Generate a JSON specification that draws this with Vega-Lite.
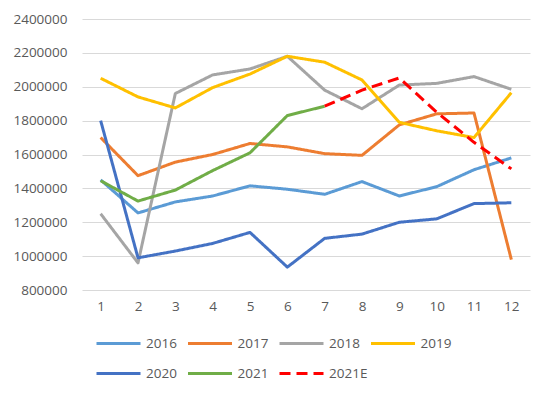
{
  "$schema": "https://vega.github.io/schema/vega-lite/v6.json",
  "width": 448,
  "height": 271,
  "autosize": {"type": "none"},
  "padding": {"left": 82, "top": 19, "right": 20, "bottom": 106},
  "background": "white",
  "data": {
    "values": [
      {"m": 1, "s": "2016", "v": 1450000}, {"m": 2, "s": "2016", "v": 1255000}, {"m": 3, "s": "2016", "v": 1320000}, {"m": 4, "s": "2016", "v": 1355000}, {"m": 5, "s": "2016", "v": 1415000}, {"m": 6, "s": "2016", "v": 1395000}, {"m": 7, "s": "2016", "v": 1365000}, {"m": 8, "s": "2016", "v": 1440000}, {"m": 9, "s": "2016", "v": 1355000}, {"m": 10, "s": "2016", "v": 1410000}, {"m": 11, "s": "2016", "v": 1510000}, {"m": 12, "s": "2016", "v": 1580000},
      {"m": 1, "s": "2017", "v": 1700000}, {"m": 2, "s": "2017", "v": 1475000}, {"m": 3, "s": "2017", "v": 1555000}, {"m": 4, "s": "2017", "v": 1600000}, {"m": 5, "s": "2017", "v": 1665000}, {"m": 6, "s": "2017", "v": 1645000}, {"m": 7, "s": "2017", "v": 1605000}, {"m": 8, "s": "2017", "v": 1595000}, {"m": 9, "s": "2017", "v": 1775000}, {"m": 10, "s": "2017", "v": 1840000}, {"m": 11, "s": "2017", "v": 1845000}, {"m": 12, "s": "2017", "v": 980000},
      {"m": 1, "s": "2018", "v": 1250000}, {"m": 2, "s": "2018", "v": 960000}, {"m": 3, "s": "2018", "v": 1960000}, {"m": 4, "s": "2018", "v": 2070000}, {"m": 5, "s": "2018", "v": 2105000}, {"m": 6, "s": "2018", "v": 2180000}, {"m": 7, "s": "2018", "v": 1980000}, {"m": 8, "s": "2018", "v": 1870000}, {"m": 9, "s": "2018", "v": 2010000}, {"m": 10, "s": "2018", "v": 2020000}, {"m": 11, "s": "2018", "v": 2060000}, {"m": 12, "s": "2018", "v": 1985000},
      {"m": 1, "s": "2019", "v": 2050000}, {"m": 2, "s": "2019", "v": 1940000}, {"m": 3, "s": "2019", "v": 1875000}, {"m": 4, "s": "2019", "v": 1995000}, {"m": 5, "s": "2019", "v": 2075000}, {"m": 6, "s": "2019", "v": 2180000}, {"m": 7, "s": "2019", "v": 2145000}, {"m": 8, "s": "2019", "v": 2040000}, {"m": 9, "s": "2019", "v": 1790000}, {"m": 10, "s": "2019", "v": 1740000}, {"m": 11, "s": "2019", "v": 1700000}, {"m": 12, "s": "2019", "v": 1965000},
      {"m": 1, "s": "2020", "v": 1800000}, {"m": 2, "s": "2020", "v": 990000}, {"m": 3, "s": "2020", "v": 1030000}, {"m": 4, "s": "2020", "v": 1075000}, {"m": 5, "s": "2020", "v": 1140000}, {"m": 6, "s": "2020", "v": 935000}, {"m": 7, "s": "2020", "v": 1105000}, {"m": 8, "s": "2020", "v": 1130000}, {"m": 9, "s": "2020", "v": 1200000}, {"m": 10, "s": "2020", "v": 1220000}, {"m": 11, "s": "2020", "v": 1310000}, {"m": 12, "s": "2020", "v": 1315000},
      {"m": 1, "s": "2021", "v": 1445000}, {"m": 2, "s": "2021", "v": 1325000}, {"m": 3, "s": "2021", "v": 1390000}, {"m": 4, "s": "2021", "v": 1505000}, {"m": 5, "s": "2021", "v": 1610000}, {"m": 6, "s": "2021", "v": 1830000}, {"m": 7, "s": "2021", "v": 1885000},
      {"m": 7, "s": "2021E", "v": 1885000}, {"m": 8, "s": "2021E", "v": 1980000}, {"m": 9, "s": "2021E", "v": 2052000}, {"m": 10, "s": "2021E", "v": 1850000}, {"m": 11, "s": "2021E", "v": 1672000}, {"m": 12, "s": "2021E", "v": 1515000}
    ]
  },
  "mark": {"type": "line", "strokeWidth": 3, "strokeCap": "butt", "strokeJoin": "round"},
  "encoding": {
    "x": {
      "field": "m", "type": "ordinal", "title": null,
      "scale": {"type": "point", "padding": 0.5},
      "axis": {"labelAngle": 0, "domain": false, "ticks": false, "grid": false, "labelPadding": 9, "labelFontSize": 13.5, "labelColor": "#595959", "labelFont": "Open Sans"}
    },
    "y": {
      "field": "v", "type": "quantitative", "title": null,
      "scale": {"domain": [800000, 2400000], "nice": false, "zero": false},
      "axis": {"values": [800000, 1000000, 1200000, 1400000, 1600000, 1800000, 2000000, 2200000, 2400000], "format": "d", "domain": false, "ticks": false, "gridColor": "#d9d9d9", "gridWidth": 1, "labelPadding": 15, "labelFontSize": 13.5, "labelColor": "#595959", "labelFont": "Open Sans"}
    },
    "color": {
      "field": "s", "type": "nominal", "title": null,
      "scale": {"domain": ["2016", "2017", "2018", "2019", "2020", "2021", "2021E"], "range": ["#5B9BD5", "#ED7D31", "#A5A5A5", "#FFC000", "#4472C4", "#70AD47", "#FF0000"]},
      "legend": {"orient": "none", "legendX": 13, "legendY": 301, "direction": "horizontal", "columns": 4, "gridAlign": "all", "symbolType": "stroke", "symbolSize": 1936, "symbolStrokeWidth": 4, "labelFontSize": 13.5, "labelColor": "#595959", "labelFont": "Open Sans", "columnPadding": -3.5, "rowPadding": -18, "labelOffset": 4}
    },
    "strokeDash": {
      "field": "s", "type": "nominal", "title": null,
      "scale": {"domain": ["2016", "2017", "2018", "2019", "2020", "2021", "2021E"], "range": [[1, 0], [1, 0], [1, 0], [1, 0], [1, 0], [1, 0], [11, 6]]}
    },
    "strokeWidth": {
      "field": "s", "type": "nominal", "title": null,
      "scale": {"domain": ["2016", "2017", "2018", "2019", "2020", "2021", "2021E"], "range": [3, 3, 3, 3, 3, 3, 4]}
    }
  },
  "config": {"view": {"stroke": null}}
}
